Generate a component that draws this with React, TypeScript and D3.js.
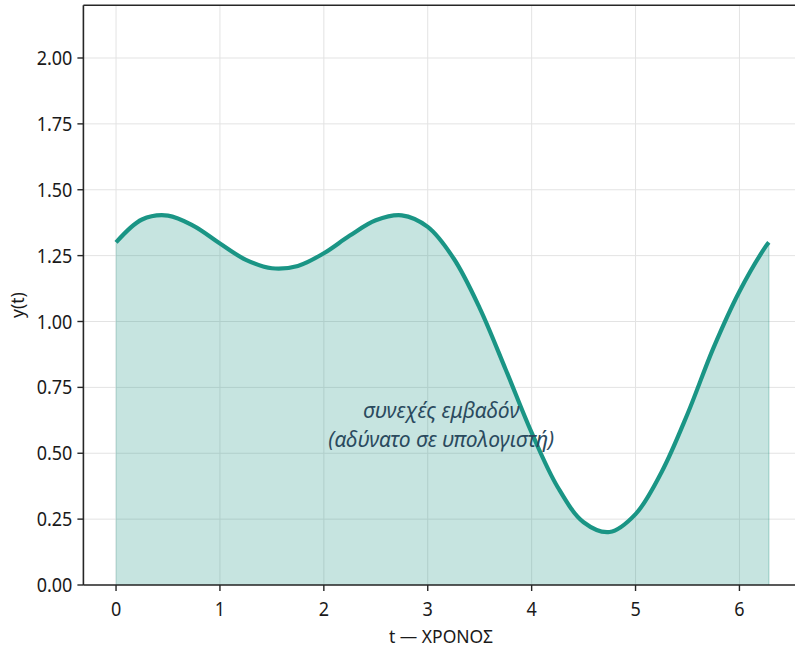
import React from "react";
import * as d3 from "d3";

const tValues = [0, 0.25, 0.5, 0.75, 1.0, 1.25, 1.5, 1.75, 2.0, 2.25, 2.5, 2.75, 3.0, 3.25, 3.5, 3.75, 4.0, 4.25, 4.5, 4.75, 5.0, 5.25, 5.5, 5.75, 6.0, 6.25, 6.283];
const yValues = [1.3, 1.387, 1.402, 1.362, 1.296, 1.234, 1.202, 1.211, 1.259, 1.326, 1.384, 1.403, 1.359, 1.239, 1.051, 0.818, 0.578, 0.372, 0.238, 0.201, 0.269, 0.428, 0.649, 0.9, 1.114, 1.283, 1.3];
const xTicks = [0, 1, 2, 3, 4, 5, 6];
const yTicks = [0, 0.25, 0.5, 0.75, 1.0, 1.25, 1.5, 1.75, 2.0];
const xLabel = "t — ΧΡΟΝΟΣ";
const yLabel = "y(t)";
const annotationLines = ["συνεχές εμβαδόν", "(αδύνατο σε υπολογιστή)"];

const W = 795;
const H = 650;
const FONT = "'Noto Sans', 'DejaVu Sans', sans-serif";
const TEAL = "#1a9585";

function T(props: { x: number; y: number; size: number; sy?: number; anchor?: string; children: React.ReactNode; fill?: string; italic?: boolean }) {
  const sy = props.sy ?? 1.1;
  return (
    <text
      transform={`translate(${props.x},${props.y}) scale(1,${sy})`}
      textAnchor={props.anchor || "middle"}
      fontSize={props.size}
      fontStyle={props.italic ? "italic" : "normal"}
      fill={props.fill || "#1a1a1a"}
    >
      {props.children}
    </text>
  );
}

export default function App() {
  const x = d3.scaleLinear().domain([-0.3142, 6.5973]).range([83.4, 801.5]);
  const y = d3.scaleLinear().domain([0, 2.2]).range([585, 5.3]);
  const pts = tValues.map((t, i) => [t, yValues[i]] as [number, number]);
  const line = d3.line<[number, number]>().x(d => x(d[0])).y(d => y(d[1])).curve(d3.curveCatmullRom.alpha(0.5));
  const area = d3.area<[number, number]>().x(d => x(d[0])).y0(y(0)).y1(d => y(d[1])).curve(d3.curveCatmullRom.alpha(0.5));
  const left = x.range()[0];
  const right = x.range()[1];
  const top = y.range()[1];
  const bottom = y.range()[0];
  const cx = x(3.13);
  return (
    <svg width={W} height={H} style={{ position: "absolute", left: 0, top: 0, background: "#fff" }} fontFamily={FONT}>
      <rect width={W} height={H} fill="#fff" />
      {xTicks.map(t => (
        <line key={"gx" + t} x1={x(t)} x2={x(t)} y1={top} y2={bottom} stroke="#e3e3e3" strokeWidth={1} />
      ))}
      {yTicks.map(v => (
        <line key={"gy" + v} x1={left} x2={right} y1={y(v)} y2={y(v)} stroke="#e3e3e3" strokeWidth={1} />
      ))}
      <path d={area(pts) || ""} fill={TEAL} fillOpacity={0.25} />
      <line x1={x(6.283)} x2={x(6.283)} y1={y(1.3)} y2={bottom} stroke={TEAL} strokeOpacity={0.25} strokeWidth={1.5} />
      <line x1={x(0)} x2={x(0)} y1={y(1.3)} y2={bottom} stroke={TEAL} strokeOpacity={0.15} strokeWidth={1} />
      <path d={line(pts) || ""} fill="none" stroke={TEAL} strokeWidth={4.2} />
      <T x={cx} y={418} size={21} sy={1} italic fill="#2a4a5e">{annotationLines[0]}</T>
      <T x={cx} y={447} size={21} sy={1} italic fill="#2a4a5e">{annotationLines[1]}</T>
      <line x1={left} x2={left} y1={top} y2={bottom} stroke="#262626" strokeWidth={1.6} />
      <line x1={left} x2={right} y1={bottom} y2={bottom} stroke="#262626" strokeWidth={1.6} />
      <line x1={left} x2={right} y1={top} y2={top} stroke="#262626" strokeWidth={1.6} />
      {xTicks.map(t => (
        <g key={"xt" + t}>
          <line x1={x(t)} x2={x(t)} y1={bottom} y2={bottom + 6} stroke="#262626" strokeWidth={1.4} />
          <T x={x(t)} y={bottom + 31} size={18}>{String(t)}</T>
        </g>
      ))}
      {yTicks.map(v => (
        <g key={"yt" + v}>
          <line x1={left - 6} x2={left} y1={y(v)} y2={y(v)} stroke="#262626" strokeWidth={1.4} />
          <T x={left - 11} y={y(v) + 7} size={18} anchor="end">{v.toFixed(2)}</T>
        </g>
      ))}
      <T x={441} y={643} size={17.5} sy={1}>{xLabel}</T>
      <text transform={`translate(24,305) rotate(-90)`} textAnchor="middle" fontSize={17.5} fill="#1a1a1a">{yLabel}</text>
    </svg>
  );
}
